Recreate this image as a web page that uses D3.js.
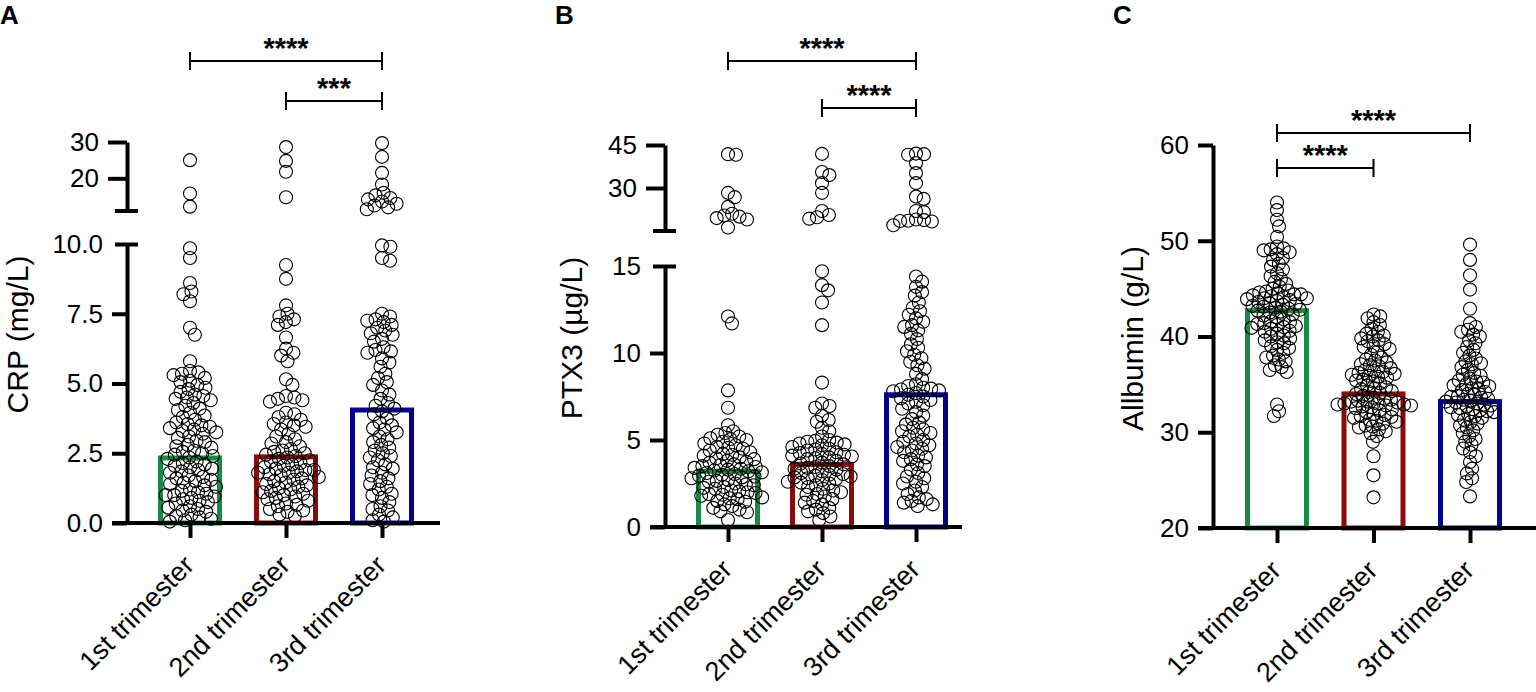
<!DOCTYPE html>
<html>
<head>
<meta charset="utf-8">
<script src="https://cdn.jsdelivr.net/npm/d3@7"></script>
<style>
  body { margin: 0; background: #fff; }
  text { font-family: Arial, "Liberation Sans", sans-serif; fill: #000; }
</style>
</head>
<body>
<svg id="fig" width="1536" height="692"></svg>
<script>

// ---- data ----
var categories = ['1st trimester', '2nd trimester', '3rd trimester'];

var crp1 = [25, 15.8, 12.2, 9.85, 9.5, 8.6, 8.3, 8.2, 7.95, 7.0, 6.75, 5.8,
  5.45, 5.4, 5.35, 5.3, 5.2, 5.1, 5.05, 4.95, 4.85, 4.8, 4.7, 4.6, 4.55, 4.5,
  4.45, 4.4, 4.3, 4.2, 4.1, 4.05, 3.95, 3.85, 3.8, 3.7, 3.6, 3.55, 3.5,
  3.45, 3.4, 3.35, 3.3, 3.25, 3.2, 3.1, 3.05, 2.95, 2.9, 2.8, 2.75, 2.7, 2.6, 2.55, 2.5,
  2.45, 2.4, 2.35, 2.3, 2.2, 2.15, 2.1, 2.05, 2.0, 1.95, 1.9, 1.85, 1.8, 1.7, 1.65, 1.6, 1.55, 1.5,
  1.45, 1.4, 1.35, 1.3, 1.2, 1.15, 1.1, 1.05, 1.0, 1.0, 0.95, 0.9, 0.85, 0.8, 0.75, 0.7, 0.6, 0.55, 0.5,
  0.45, 0.4, 0.3, 0.25, 0.2, 0.15, 0.1, 0.05];
var crp2 = [28.6, 24.8, 21.8, 14.8, 9.25, 8.75, 7.8, 7.5, 7.4, 7.3, 7.2, 7.1, 6.65, 6.25, 6.1, 6.0, 5.8,
  5.15, 4.95, 4.55, 4.5, 4.45, 4.4, 4.35, 3.95, 3.9, 3.8, 3.7, 3.6, 3.55, 3.5, 3.45,
  3.35, 3.2, 3.1, 3.0, 2.9, 2.85, 2.75, 2.65, 2.6, 2.55, 2.5, 2.45, 2.4, 2.35, 2.3, 2.25, 2.2, 2.15, 2.1, 2.05, 2.0,
  1.95, 1.9, 1.9, 1.85, 1.8, 1.8, 1.75, 1.7, 1.65, 1.6, 1.55, 1.5, 1.45, 1.4, 1.35, 1.3, 1.25, 1.2, 1.15, 1.1, 1.05, 1.0,
  0.95, 0.9, 0.85, 0.8, 0.7, 0.65, 0.6, 0.5, 0.45, 0.4, 0.3, 0.25];
var crp3 = [29.7, 25.9, 21.5, 18.3, 16.0, 15.3, 14.6, 14.2, 13.6, 13.0, 12.5, 12.0, 11.5,
  9.95, 9.9, 9.5, 9.4, 7.5, 7.4, 7.3, 7.25, 7.2, 7.1, 7.0, 6.9, 6.8, 6.75, 6.6, 6.5, 6.3, 6.2, 6.15, 6.1,
  5.9, 5.75, 5.6, 5.35, 5.2, 5.05, 4.95, 4.75, 4.6, 4.45, 4.3, 4.2, 4.1,
  4.0, 3.9, 3.75, 3.6, 3.5, 3.4, 3.35, 3.25, 3.1, 3.0, 2.9, 2.8, 2.7, 2.6, 2.5, 2.4, 2.35, 2.25, 2.1, 2.0,
  1.95, 1.8, 1.7, 1.6, 1.5, 1.4, 1.3, 1.2, 1.05, 1.0, 0.9, 0.75, 0.6, 0.5, 0.45, 0.3, 0.2, 0.1, 0.05];
var crpBars = [2.33, 2.37, 4.05];
var crpLowTicks = [0, 2.5, 5, 7.5, 10];
var crpUpTicks = [20, 30];

var ptx1 = [41.8, 41.6, 28.3, 26.8, 23.4, 21.0, 20.4, 20.0, 19.5, 19.0, 16.2,
  12.1, 11.7, 7.85, 6.85, 5.85, 5.5, 5.4, 5.3, 5.2, 5.1, 5.05, 5.0,
  4.9, 4.8, 4.7, 4.6, 4.55, 4.5, 4.4, 4.3, 4.2, 4.15, 4.1, 4.0,
  3.95, 3.9, 3.8, 3.75, 3.7, 3.6, 3.55, 3.5, 3.45, 3.4, 3.35, 3.3, 3.25, 3.2, 3.15, 3.1, 3.05, 3.0,
  2.95, 2.9, 2.85, 2.8, 2.7, 2.65, 2.6, 2.5, 2.45, 2.4, 2.3, 2.25, 2.2, 2.1, 2.05, 2.0,
  1.95, 1.9, 1.85, 1.8, 1.7, 1.65, 1.6, 1.5, 1.45, 1.3, 1.2, 1.1, 1.0, 0.9, 0.85, 0.4];
var ptx2 = [41.9, 35.6, 34.5, 31.7, 28.3, 22.0, 20.6, 19.8, 19.3,
  14.7, 13.9, 13.6, 12.9, 11.6, 8.3, 7.1, 6.95, 6.85, 6.4, 6.15, 6.05, 5.7, 5.5, 5.2,
  5.0, 4.95, 4.9, 4.85, 4.8, 4.75, 4.7, 4.6, 4.5, 4.45, 4.4, 4.3, 4.25, 4.2, 4.15, 4.1, 4.05, 4.0,
  3.95, 3.9, 3.8, 3.7, 3.65, 3.6, 3.5, 3.45, 3.4, 3.35, 3.3, 3.2, 3.1, 3.05, 3.0,
  2.95, 2.9, 2.85, 2.8, 2.75, 2.7, 2.6, 2.55, 2.5, 2.4, 2.3, 2.2, 2.1, 2.0,
  1.9, 1.85, 1.75, 1.6, 1.5, 1.4, 1.3, 1.1, 1.0, 0.9, 0.8, 0.6, 0.4];
var ptx3 = [42.0, 41.8, 41.6, 38.7, 35.2, 31.7, 27.0, 26.2, 22.0, 21.6, 19.0, 18.8, 18.6, 18.5, 18.3, 17.0,
  14.4, 14.1, 13.8, 13.5, 13.3, 12.9, 12.6, 12.4, 12.2, 12.0, 11.8, 11.6, 11.5, 11.3, 11.1, 10.8, 10.5,
  10.3, 10.1, 9.9, 9.7, 9.5, 9.3, 9.1, 8.8, 8.5, 8.2, 8.1, 8.0, 7.95, 7.9, 7.85, 7.8, 7.7, 7.6, 7.5, 7.4, 7.3, 7.2, 7.1, 7.0,
  6.8, 6.6, 6.4, 6.2, 6.0, 5.9, 5.7, 5.6, 5.5, 5.4, 5.3, 5.2, 5.0, 4.9, 4.8, 4.7, 4.6, 4.5, 4.4, 4.3, 4.1, 4.0, 3.9, 3.8, 3.6, 3.5,
  3.3, 3.1, 2.9, 2.8, 2.6, 2.5, 2.3, 2.1, 1.9, 1.7, 1.6, 1.5, 1.4, 1.3, 1.2];
var ptxBars = [3.2, 3.6, 7.6];
var ptxLowTicks = [0, 5, 10, 15];
var ptxUpTicks = [30, 45];

var alb1 = [54.0, 53.2, 52.2, 51.5, 50.4, 49.4, 49.2, 49.1, 49.0, 48.8, 48.6, 48.2, 48.0, 47.6, 47.3, 47.0,
  46.6, 46.3, 46.0, 45.7, 45.5, 45.2, 45.0, 44.8, 44.7, 44.6, 44.5, 44.4, 44.4, 44.3, 44.2, 44.1, 44.0, 44.0,
  43.9, 43.8, 43.7, 43.6, 43.5, 43.4, 43.3, 43.2, 43.1, 43.0, 42.9, 42.8, 42.7, 42.6, 42.5, 42.3, 42.2, 42.0,
  41.8, 41.6, 41.5, 41.4, 41.3, 41.2, 41.1, 41.0, 40.9, 40.8, 40.6, 40.5, 40.3, 40.1, 40.0, 39.8, 39.6, 39.4,
  39.3, 39.0, 38.8, 38.6, 38.3, 38.0, 37.8, 37.6, 37.4, 37.0, 36.8, 36.5, 36.3, 32.9, 32.2, 31.7];
var alb2 = [42.3, 42.1, 41.9, 41.5, 41.2, 40.8, 40.5, 40.3, 40.1, 40.0, 39.8, 39.6, 39.5, 39.2, 39.0, 38.9, 38.7,
  38.4, 38.1, 37.8, 37.6, 37.5, 37.3, 37.1, 37.0, 36.9, 36.7, 36.5, 36.4, 36.3, 36.2, 36.1, 36.0, 35.9, 35.8,
  35.7, 35.5, 35.4, 35.3, 35.1, 34.9, 34.7, 34.6, 34.5, 34.3, 34.2, 34.1, 34.0, 33.8, 33.6, 33.5, 33.4, 33.3,
  33.2, 33.2, 33.1, 33.0, 33.0, 32.9, 32.9, 32.8, 32.8, 32.7, 32.6, 32.5, 32.4, 32.3, 32.1, 31.9, 31.8, 31.7,
  31.6, 31.5, 31.3, 31.2, 31.1, 30.9, 30.7, 30.6, 30.5, 30.3, 30.1, 29.9, 29.6, 29.0, 27.5, 25.5, 23.2];
var alb3 = [49.6, 48.0, 46.4, 44.9, 42.9, 41.4, 41.0, 40.7, 40.5, 40.2, 40.0, 39.6, 39.3, 38.9, 38.6, 38.3,
  38.0, 37.7, 37.4, 37.2, 37.1, 36.8, 36.5, 36.2, 36.0, 35.9, 35.6, 35.4, 35.3, 35.2, 35.0, 34.9, 34.8, 34.6,
  34.5, 34.4, 34.2, 34.0, 33.9, 33.8, 33.7, 33.6, 33.5, 33.4, 33.3, 33.2, 33.1, 33.0, 32.9, 32.8, 32.7, 32.6,
  32.5, 32.4, 32.3, 32.2, 32.1, 31.9, 31.8, 31.7, 31.5, 31.3, 31.1, 30.9, 30.7, 30.5, 30.2, 29.9, 29.6, 29.3,
  29.0, 28.7, 28.3, 27.9, 27.5, 26.9, 26.2, 25.7, 25.2, 24.8, 23.3];
var albBars = [42.7, 34.0, 33.2];
var albTicks = [20, 30, 40, 50, 60];

var crpSig = [['1st trimester', '3rd trimester', '****'], ['2nd trimester', '3rd trimester', '***']];
var ptxSig = [['1st trimester', '3rd trimester', '****'], ['2nd trimester', '3rd trimester', '****']];
var albSig = [['1st trimester', '3rd trimester', '****'], ['1st trimester', '2nd trimester', '****']];

var barColors = ['#188a47', '#8b0a0a', '#02028c'];
var radius = 6.5;
var barW = 59;

var svg = d3.select('#fig');

// place points beside each other so they do not pile up (swarm)
function swarm(values, y, cx, dist) {
    var pts = values.map(v => ({v: v, y: y(v)})).sort((a, b) => a.y - b.y);
    var placed = [];
    pts.forEach(function (p) {
        var near = placed.filter(q => Math.abs(q.y - p.y) < dist);
        var cands = [0];
        near.forEach(function (q) {
            var dx = Math.sqrt(dist*dist - (q.y - p.y)*(q.y - p.y));
            cands.push(q.x + dx, q.x - dx);
        });
        cands.sort((a, b) => Math.abs(a) - Math.abs(b));
        for (var c of cands) {
            if (near.every(q => (q.x - c)*(q.x - c) + (q.y - p.y)*(q.y - p.y) >= dist*dist - 0.01)) {
                p.x = c;
                break;
            }
        }
        placed.push(p);
    });
    placed.forEach(p => p.x += cx);
    return placed;
}

function styleAxis(ax) {
    ax.selectAll('path, line').attr('stroke', '#000').attr('stroke-width', 4);
    ax.selectAll('text').style('font-size', '26px').attr('fill', '#000');
}

function drawPanel(p) {
    var g = svg.append('g');
    var x = d3.scalePoint().domain(categories).range(p.xRange);
    var yLow = d3.scaleLinear().domain(p.lowDomain).range(p.lowRange);
    var yUp = p.upDomain ? d3.scaleLinear().domain(p.upDomain).range(p.upRange) : null;
    var y = v => (yUp && v > p.lowDomain[1]) ? yUp(v) : yLow(v);
    var base = p.lowRange[0];

    // panel letter
    g.append('text').text(p.letter)
        .attr('x', p.letterX).attr('y', 24)
        .style('font-size', '26px').style('font-weight', 'bold');

    // bars
    g.selectAll('rect.bar')
        .data(p.bars)
        .enter()
        .append('rect')
        .attr('x', (d, i) => x(categories[i]) - barW/2)
        .attr('y', d => yLow(d))
        .attr('width', barW)
        .attr('height', d => base - yLow(d))
        .attr('fill', 'none')
        .attr('stroke', (d, i) => barColors[i])
        .attr('stroke-width', 5);

    // dots
    p.values.forEach(function (vals, i) {
        var pts = swarm(vals, y, x(categories[i]), p.spread);
        g.append('g').selectAll('circle')
            .data(pts)
            .enter()
            .append('circle')
            .attr('cx', d => d.x)
            .attr('cy', d => d.y)
            .attr('r', radius)
            .attr('fill', 'none')
            .attr('stroke', '#000')
            .attr('stroke-width', 1.1);
    });

    // x axis line + ticks + rotated labels
    g.append('line')
        .attr('x1', p.axisX - 15).attr('x2', p.xEnd)
        .attr('y1', base).attr('y2', base)
        .attr('stroke', '#000').attr('stroke-width', 4);
    var xAx = g.append('g')
        .attr('transform', 'translate(0,' + base + ')')
        .call(d3.axisBottom(x).tickSize(15).tickSizeOuter(0));
    xAx.select('.domain').remove();
    styleAxis(xAx);
    xAx.selectAll('text')
        .attr('x', null).attr('y', null).attr('dy', null)
        .attr('transform', 'translate(5,44) rotate(-45)')
        .style('text-anchor', 'end')
        .style('font-size', '27px');

    // lower y axis
    var lowTop = p.lowDomain[1];
    var yAx = g.append('g')
        .attr('transform', 'translate(' + p.axisX + ',0)')
        .call(d3.axisLeft(yLow).tickValues(p.lowTicks).tickFormat(p.fmt)
            .tickSize(15).tickPadding(9).tickSizeOuter(0));
    styleAxis(yAx);
    if (yUp) {
        yAx.selectAll('.tick').filter(d => d === lowTop).select('line')
            .attr('x1', 11).attr('x2', -12);

        // upper segment of the broken axis
        var uAx = g.append('g')
            .attr('transform', 'translate(' + p.axisX + ',0)')
            .call(d3.axisLeft(yUp).tickValues(p.upTicks)
                .tickSize(19).tickPadding(9).tickSizeOuter(0));
        styleAxis(uAx);
        uAx.append('line')
            .attr('x1', -12).attr('x2', 11)
            .attr('y1', yUp(p.upDomain[0])).attr('y2', yUp(p.upDomain[0]))
            .attr('stroke', '#000').attr('stroke-width', 4);
    }

    // axis title
    var topY = yUp ? p.upRange[1] : p.lowRange[1];
    g.append('text').text(p.title)
        .attr('transform', 'translate(' + p.titleX + ',' + ((topY + base)/2 + 2) + ') rotate(-90)')
        .style('text-anchor', 'middle')
        .style('font-size', '30px');

    // significance brackets
    p.sig.forEach(function (s, i) {
        var x1 = x(s[0]), x2 = x(s[1]), yy = p.sigY[i];
        var b = g.append('g').attr('stroke', '#000').attr('stroke-width', 2);
        b.append('line').attr('x1', x1).attr('x2', x2).attr('y1', yy).attr('y2', yy);
        b.append('line').attr('x1', x1).attr('x2', x1).attr('y1', yy - 9).attr('y2', yy + 9);
        b.append('line').attr('x1', x2).attr('x2', x2).attr('y1', yy - 9).attr('y2', yy + 9);
        g.append('text').text(s[2])
            .attr('x', (x1 + x2)/2).attr('y', yy - 3)
            .style('text-anchor', 'middle')
            .style('font-size', '29px').style('font-weight', 'bold');
    });
}

drawPanel({
    letter: 'A', letterX: 0,
    axisX: 127, xRange: [190, 382], xEnd: 440,
    lowDomain: [0, 10], lowRange: [523, 244], lowTicks: crpLowTicks, fmt: d3.format('.1f'),
    upDomain: [11, 30], upRange: [211, 142], upTicks: crpUpTicks,
    title: 'CRP (mg/L)', titleX: 28, spread: 8.5,
    values: [crp1, crp2, crp3], bars: crpBars,
    sig: crpSig, sigY: [61, 101]
});

drawPanel({
    letter: 'B', letterX: 555,
    axisX: 665, xRange: [728, 916], xEnd: 962,
    lowDomain: [0, 15], lowRange: [527, 266], lowTicks: ptxLowTicks, fmt: d3.format('d'),
    upDomain: [15, 45], upRange: [231, 145], upTicks: ptxUpTicks,
    title: 'PTX3 (\u00b5g/L)', titleX: 582, spread: 8,
    values: [ptx1, ptx2, ptx3], bars: ptxBars,
    sig: ptxSig, sigY: [61, 108]
});

drawPanel({
    letter: 'C', letterX: 1113,
    axisX: 1213, xRange: [1277, 1470], xEnd: 1536,
    lowDomain: [20, 60], lowRange: [528, 145], lowTicks: albTicks, fmt: d3.format('d'),
    title: 'Allbumin (g/L)', titleX: 1143, spread: 7,
    values: [alb1, alb2, alb3], bars: albBars,
    sig: albSig, sigY: [133, 168]
});

</script>
</body>
</html>
